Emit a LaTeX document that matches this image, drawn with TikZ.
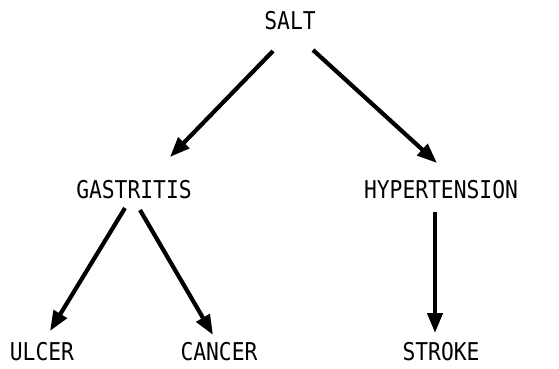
\documentclass[tikz,border=0pt]{standalone}
\usepackage{fontspec}
\usepackage{tikz}
\usetikzlibrary{arrows.meta}
\newfontfamily\plotfont[FakeStretch=0.87]{DejaVu Sans Mono}

\tikzset{
    term/.style={font=\plotfont\fontsize{24.5}{26}\selectfont, inner sep=0pt},
    cause/.style={-{Triangle[length=20pt,width=15pt]}, line width=4.2pt}
}

\begin{document}
\begin{tikzpicture}[x=1pt, y=1pt]
    \useasboundingbox (0,0) rectangle (559,368);

    % Terms
    \node[term] (salt) at (290,347) {SALT};
    \node[term] (gastritis) at (134,178) {GASTRITIS};
    \node[term] (hyper) at (441,178) {HYPERTENSION};
    \node[term] (ulcer) at (42,16) {ULCER};
    \node[term] (cancer) at (219,16) {CANCER};
    \node[term] (stroke) at (441,16) {STROKE};

    % Arrows
    \draw[cause] ([shift={(-17,-30)}]salt.center) -- ([shift={(36,33)}]gastritis.center);
    \draw[cause] ([shift={(23,-29)}]salt.center) -- ([shift={(-4,27)}]hyper.center);
    \draw[cause] ([shift={(-9,-18)}]gastritis.center) -- ([shift={(8,21)}]ulcer.center);
    \draw[cause] ([shift={(6,-20)}]gastritis.center) -- ([shift={(-6,17)}]cancer.center);
    \draw[cause] ([shift={(-6,-22)}]hyper.center) -- ([shift={(-6,19)}]stroke.center);
\end{tikzpicture}
\end{document}
